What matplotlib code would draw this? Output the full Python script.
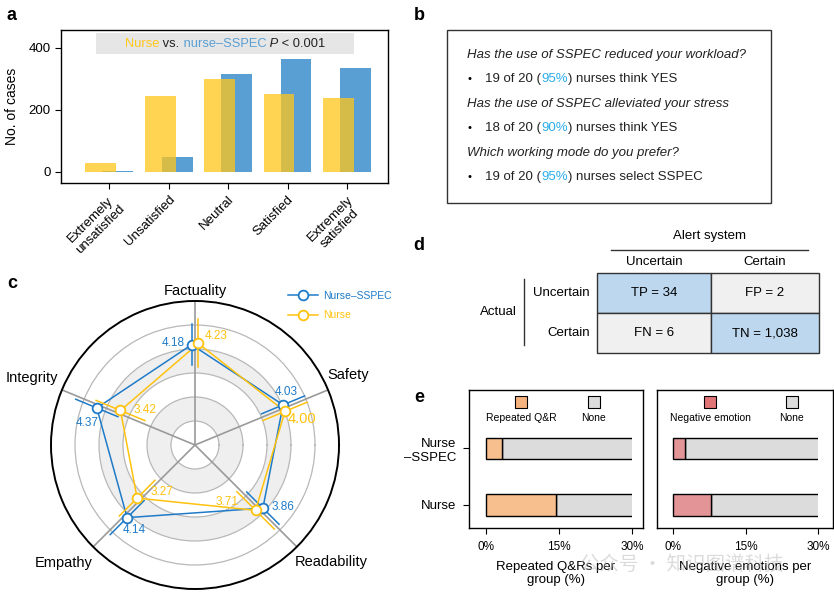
import numpy as np
import matplotlib
matplotlib.use('Agg')
import matplotlib.pyplot as plt
from matplotlib.patches import Rectangle
from matplotlib.lines import Line2D

plt.rcParams['font.family'] = ['Liberation Sans', 'DejaVu Sans']
plt.rcParams['axes.linewidth'] = 1.0

# ---- data ----
sat_levels = ['Extremely\nunsatisfied', 'Unsatisfied', 'Neutral', 'Satisfied', 'Extremely\nsatisfied']
nurse_cases = [30, 245, 300, 252, 237]
sspec_cases = [2, 47, 316, 364, 334]

radar_dims = ['Factuality', 'Safety', 'Readability', 'Empathy', 'Integrity']
radar_sspec = [4.18, 4.03, 3.86, 4.14, 4.37]
radar_nurse = [4.23, 4.00, 3.71, 3.27, 3.42]
radar_sspec_sd = [0.85, 0.97, 0.95, 1.00, 0.95]
radar_nurse_sd = [1.00, 1.00, 1.10, 1.05, 1.10]

survey_questions = ['Has the use of SSPEC reduced your workload?',
                    'Has the use of SSPEC alleviated your stress',
                    'Which working mode do you prefer?']
survey_counts = [19, 18, 19]
survey_total = 20
survey_answers = ['nurses think YES', 'nurses think YES', 'nurses select SSPEC']

cm_cols = ['Uncertain', 'Certain']
cm_rows = ['Uncertain', 'Certain']
cm_labels = [['TP', 'FP'], ['FN', 'TN']]
cm_values = [[34, 2], [6, 1038]]

groups = ['Nurse', 'Nurse\n\u2013SSPEC']
repeated_qr = [14.3, 3.2]
negative_emo = [7.9, 2.4]

# ---- colours ----
YEL = '#FFC61A'
BLU = '#5A9FD4'
RBLU = '#1F7BC8'
RYEL = '#FFC20E'
CYAN = '#2BAEEA'

W, H = 834, 594
fig = plt.figure(figsize=(W / 100, H / 100), dpi=100)


def fax(l, t, r, b, **kw):
    # axes from pixel box (left, top, right, bottom)
    return fig.add_axes([l / W, 1 - b / H, (r - l) / W, (b - t) / H], **kw)


def chain_text(ax, x, y, parts, fontsize, zorder=3, **kw):
    s, c, st = parts[0]
    t = ax.text(x, y, s, color=c, style=st, fontsize=fontsize, va='center', zorder=zorder, **kw)
    for s, c, st in parts[1:]:
        t = ax.annotate(s, xycoords=t, xy=(1, 0), va='bottom', color=c,
                        style=st, fontsize=fontsize, zorder=zorder)
    return t


over = fig.add_axes([0, 0, 1, 1])
over.set_xlim(0, W)
over.set_ylim(H, 0)
over.axis('off')

for lab, (px, py) in zip('abcde', [(12, 15), (419, 15), (12, 284), (419, 245), (419, 397)]):
    over.text(px, py, lab, fontsize=13, fontweight='bold', ha='center', va='center')

# ---- a: bar chart ----
axa = fax(61, 30, 388, 183)
x = np.arange(len(sat_levels))
axa.bar(x + 0.143, sspec_cases, 0.52, color=BLU, zorder=2)
axa.bar(x - 0.143, nurse_cases, 0.52, color=YEL, alpha=0.75, zorder=3)
axa.set_xlim(-0.81, 4.69)
axa.set_ylim(-36, 458)
axa.set_yticks([0, 200, 400])
axa.set_xticks(x)
axa.set_xticklabels(sat_levels, rotation=45, ha='right', rotation_mode='anchor',
                    multialignment='center', fontsize=10)
axa.tick_params(labelsize=9.5, length=4)
axa.set_ylabel('No. of cases', fontsize=10, labelpad=7)
axa.add_patch(Rectangle((0.107, 0.843), 0.789, 0.137, transform=axa.transAxes,
                        color='#E6E6E6', zorder=4, lw=0))
chain_text(axa, 0.196, 0.91, [('Nurse', YEL, 'normal'), (' vs.', '#222222', 'normal'),
                              (' nurse\u2013SSPEC', BLU, 'normal'), (' P', '#222222', 'italic'),
                              (' < 0.001', '#222222', 'normal')],
           9.3, zorder=5, transform=axa.transAxes)

# ---- b: survey box ----
over.add_patch(Rectangle((447, 30), 324, 173, fill=False, ec='#333333', lw=1))
for i, q in enumerate(survey_questions):
    y0 = 55 + i * 49
    over.text(467, y0, q, style='italic', fontsize=9.5, va='center', color='#222222')
    over.text(470, y0 + 24, '\u2022', fontsize=8, va='center', ha='center')
    pct = round(100 * survey_counts[i] / survey_total)
    chain_text(over, 485, y0 + 24, [('%d of %d (' % (survey_counts[i], survey_total), '#222222', 'normal'),
                                    ('%d%%' % pct, CYAN, 'normal'),
                                    (') ' + survey_answers[i], '#222222', 'normal')], 9.5)

# ---- c: radar ----
axc = fax(51, 301, 339, 589, projection='polar')
axc.set_ylim(0, 6)
axc.set_xticks([])
axc.set_yticks([1, 2, 3, 4, 5])
axc.set_yticklabels([])
axc.yaxis.grid(True, color='#b8b8b8', lw=0.9)
axc.spines['polar'].set_linewidth(1.4)
axc.set_facecolor('none')
axc.bar(0, 1, width=2 * np.pi, bottom=1, color='#EFEFEF', lw=0, zorder=0.5)
axc.bar(0, 1, width=2 * np.pi, bottom=3, color='#EFEFEF', lw=0, zorder=0.5)

ang = np.deg2rad([90, 22.5, -45, -135, 157.5])
for a in ang:
    axc.plot([a, a], [0, 6], color='#9a9a9a', lw=1.2, zorder=1.6)


def shifted(a, r, d):
    return a + np.arctan2(d, r), np.hypot(r, d)


offs = 0.14
series = [(radar_sspec, radar_sspec_sd, RBLU, offs, 'Nurse\u2013SSPEC',
           [(-18, 2), (3, 13), (20, 1), (7, -12), (-10, -15)], [8.5, 8.5, 8.5, 8.5, 8.5]),
          (radar_nurse, radar_nurse_sd, RYEL, -offs, 'Nurse',
           [(18, 7), (17, -8), (-29, 8), (25, 6), (25, 0)], [8.5, 10.5, 8.5, 8.5, 8.5])]
handles = []
for vals, sds, col, d, name, lab_off, lab_fs in series:
    th, rr = shifted(ang, np.array(vals), d)
    axc.plot(np.append(th, th[0]), np.append(rr, rr[0]), color=col, lw=1.1, zorder=3)
    for a, v, s in zip(ang, vals, sds):
        t1, r1 = shifted(a, v - s, d)
        t2, r2 = shifted(a, v + s, d)
        axc.plot([t1, t2], [r1, r2], color=col, lw=1.1, zorder=3)
    axc.plot(th, rr, 'o', ms=7, mfc='white', mec=col, mew=1.3, ls='none', zorder=4)
    for t, r, v, (dx, dy), fs in zip(th, rr, vals, lab_off, lab_fs):
        axc.annotate('%.2f' % v, (t, r), xytext=(dx * 0.72, dy * 0.72), textcoords='offset points',
                     ha='center', va='center', color=col, fontsize=fs, zorder=5)
    handles.append(Line2D([], [], color=col, lw=1.1, marker='o', ms=7, mfc='white', mec=col, mew=1.3))

lab_pos = [(90, 6.43), (24.6, 7.0), (-40.5, 7.49), (-137.9, 7.35), (157.6, 7.35)]
for name, (a, r) in zip(radar_dims, lab_pos):
    axc.text(np.deg2rad(a), r, name, ha='center', va='center', fontsize=10.5, clip_on=False)

fig.legend(handles, [s[4] for s in series], loc='upper left', bbox_to_anchor=(288 / W, 1 - 291 / H),
           frameon=False, fontsize=7.5, labelcolor='linecolor', handlelength=2.9,
           handletextpad=0.5, labelspacing=0.9, borderpad=0, borderaxespad=0)

# ---- d: confusion table ----
over.text(710, 236, 'Alert system', ha='center', va='center', fontsize=9.5)
over.plot([611, 808], [250, 250], color='#333333', lw=1)
col_x = [597, 711, 819]
row_y = [273, 313, 353]
for j, c in enumerate(cm_cols):
    over.text((col_x[j] + col_x[j + 1]) / 2, 262, c, ha='center', va='center', fontsize=9.5)
for i, r in enumerate(cm_rows):
    over.text(590, (row_y[i] + row_y[i + 1]) / 2, r, ha='right', va='center', fontsize=9.5)
    for j in range(2):
        fc = '#BDD7EE' if i == j else '#F0F0F0'
        over.add_patch(Rectangle((col_x[j], row_y[i]), col_x[j + 1] - col_x[j], row_y[i + 1] - row_y[i],
                                 fc=fc, ec='#333333', lw=1))
        over.text((col_x[j] + col_x[j + 1]) / 2, (row_y[i] + row_y[i + 1]) / 2,
                  '%s = %s' % (cm_labels[i][j], format(cm_values[i][j], ',')),
                  ha='center', va='center', fontsize=9.5)
over.plot([524, 524], [279, 345], color='#333333', lw=1)
over.text(517, 312, 'Actual', ha='right', va='center', fontsize=9.5)

# ---- e: stacked bars ----
axl = fax(469, 390, 643, 528)
axr = fax(657, 390, 833, 528)
legend_pos = [(0.299, 0.718), (0.301, 0.767)]
for ax, vals, col, lcol, lab, xl, lp, xlim in [
        (axl, repeated_qr, '#F7BE8E', '#F5B27E', 'Repeated Q&R', 'Repeated Q&Rs per\ngroup (%)', legend_pos[0], (-3.5, 32.3)),
        (axr, negative_emo, '#E39496', '#E07476', 'Negative emotion', 'Negative emotions per\ngroup (%)', legend_pos[1], (-3.3, 33.0))]:
    yy = np.arange(len(groups))
    ax.barh(yy, vals, 0.38, color=col, ec='black', lw=1, zorder=3)
    rest = ax.barh(yy, [100 - v for v in vals], 0.38, left=vals, color='#DCDCDC', ec='black', lw=1, zorder=2)
    clip = Rectangle((-10, -5), 40, 10, transform=ax.transData)
    for p in rest:
        p.set_clip_path(clip)
    ax.set_xlim(*xlim)
    ax.set_ylim(-0.41, 2.03)
    ax.set_xticks([0, 15, 30])
    ax.set_xticklabels(['0%', '15%', '30%'])
    ax.tick_params(labelsize=8.5, length=4, pad=5)
    ax.set_xlabel(xl, fontsize=9.5, labelpad=6, linespacing=1.1)
    ax.scatter([lp[0], lp[1]], [0.913, 0.913], s=70, marker='s', c=[lcol, '#DCDCDC'],
               ec='black', lw=0.8, transform=ax.transAxes, clip_on=False, zorder=5)
    ax.text(lp[0], 0.795, lab, transform=ax.transAxes, ha='center', va='center', fontsize=7.5)
    ax.text(lp[1], 0.795, 'None', transform=ax.transAxes, ha='center', va='center', fontsize=7.5)
axl.set_yticks(np.arange(len(groups)))
axl.set_yticklabels(groups, fontsize=9.5, multialignment='right')
axr.set_yticks([])

# watermark present in the reference
over.text(580, 564, '\u516c\u4f17\u53f7 \u00b7 \u77e5\u8bc6\u56fe\u8c31\u79d1\u6280', fontsize=14,
          family=['Noto Sans CJK SC', 'DejaVu Sans'], color='#b8b8b8', alpha=0.5,
          va='center', ha='left', zorder=10)
over.set_zorder(5)
over.patch.set_alpha(0)

fig.savefig('out.png', dpi=100)
